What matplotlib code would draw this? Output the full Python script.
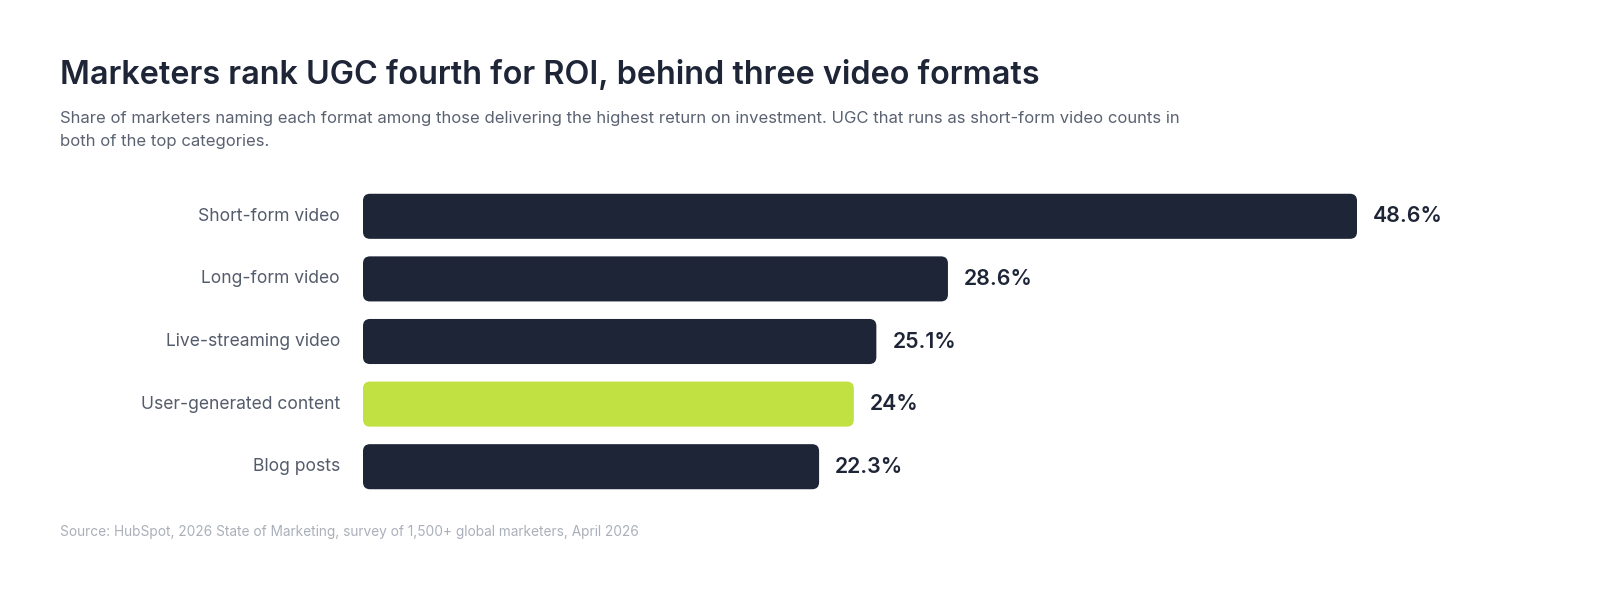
import matplotlib.pyplot as plt
from matplotlib.patches import FancyBboxPatch

categories = ['Short-form video', 'Long-form video', 'Live-streaming video',
              'User-generated content', 'Blog posts']
values = [48.6, 28.6, 25.1, 24.0, 22.3]
value_labels = ['48.6%', '28.6%', '25.1%', '24%', '22.3%']
highlight = 'User-generated content'

navy = '#1e2537'
lime = '#c1e142'

plt.rcParams['font.family'] = ['Inter', 'DejaVu Sans']

W, H = 1600, 599
fig = plt.figure(figsize=(W / 100, H / 100), dpi=100)
fig.patch.set_facecolor('white')

# axes placed in pixels: x 363..1357 maps to 0..48.6
left, right = 363, 1357
top, bottom = 185, 498
ax = fig.add_axes([left / W, 1 - bottom / H, (right - left) / W, (bottom - top) / H])
ax.set_xlim(0, max(values))
ax.set_ylim(len(categories) - 0.5, -0.5)
ax.axis('off')

bars = ax.barh(range(len(categories)), values, height=0.72)
px_x = max(values) / (right - left)
px_y = len(categories) / (bottom - top)
r = 7 * px_x
for bar, cat in zip(bars, categories):
    bar.set_visible(False)
    color = lime if cat == highlight else navy
    ax.add_patch(FancyBboxPatch((bar.get_x(), bar.get_y()), bar.get_width(), bar.get_height(),
                                boxstyle=f'round,pad=0,rounding_size={r}',
                                mutation_aspect=px_y / px_x,
                                facecolor=color, edgecolor='none'))

for i, (cat, v, lab) in enumerate(zip(categories, values, value_labels)):
    ax.text(-23 * px_x, i, cat, ha='right', va='center', fontsize=12.6, color='#545c6c')
    ax.text(v + 16 * px_x, i, lab, ha='left', va='center', fontsize=15.3,
            fontweight='semibold', color=navy)

fig.text(60 / W, 1 - 75 / H, 'Marketers rank UGC fourth for ROI, behind three video formats',
         fontsize=23.3, fontweight='semibold', color=navy, va='center')
fig.text(60 / W, 1 - 118 / H,
         'Share of marketers naming each format among those delivering the highest return on investment. '
         'UGC that runs as short-form video counts in',
         fontsize=12, color='#5a6272', va='center')
fig.text(60 / W, 1 - 142 / H, 'both of the top categories.',
         fontsize=12, color='#5a6272', va='center')
fig.text(60 / W, 1 - 532 / H,
         'Source: HubSpot, 2026 State of Marketing, survey of 1,500+ global marketers, April 2026',
         fontsize=9.85, color='#aab0ba', va='center')

fig.savefig('out.png', dpi=100)
